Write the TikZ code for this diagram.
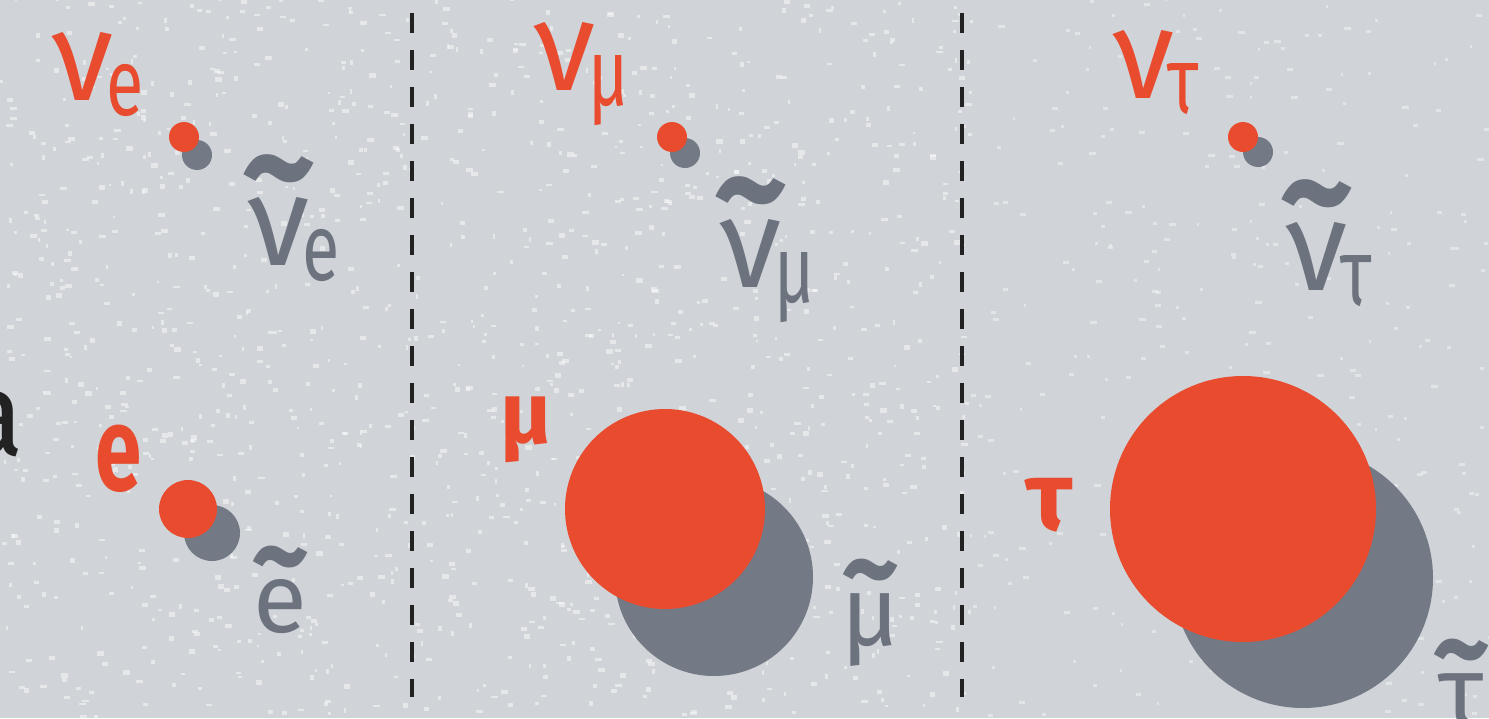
\documentclass[tikz,border=0pt]{standalone}
\usepackage{fontspec}
\setmainfont{Fira Sans}
\usepackage{graphicx}
\definecolor{ptred}{RGB}{232,75,46}
\definecolor{ptgray}{RGB}{115,121,133}
\definecolor{pttext}{RGB}{108,114,126}
\definecolor{ptbg}{RGB}{208,212,216}
\definecolor{ptdash}{RGB}{34,34,34}
\usetikzlibrary{positioning}
\newcommand\ptsub[1]{\kern-0.06em\raisebox{-4.5pt}{\fontsize{27}{27}\selectfont\scalebox{0.72}[1]{#1}}}
\newcommand\pttilde[1]{\ooalign{#1\cr\hidewidth\raisebox{0.36em}{\scalebox{1.15}[1.25]{\bfseries\textasciitilde}}\hidewidth\cr}}
\tikzset{
  pdot/.style={circle, fill=#1, inner sep=0pt, draw=none},
  plbl/.style={anchor=base west, inner sep=0pt, text=ptred,
               font=\fontsize{36}{40}\selectfont},
  albl/.style={anchor=base west, inner sep=0pt, text=pttext,
               font=\fontsize{36}{40}\selectfont},
  sep/.style={ptdash, line width=1.1pt, dash pattern=on 0.2cm off 0.17cm},
}
\begin{document}
\begin{tikzpicture}
  \useasboundingbox (0,0) rectangle (14.89,7.18);
  \clip (0,0) rectangle (14.89,7.18);
  % Background with speckles
  \fill[ptbg] (0,0) rectangle (14.89,7.18);
  \pgfmathsetseed{42}
  \foreach \k in {1,...,1300}{
    \pgfmathsetmacro\sx{rnd*9.7}
    \pgfmathsetmacro\sy{rnd*7.18}
    \pgfmathsetmacro\sw{0.02+rnd*0.05}
    \pgfmathsetmacro\sh{0.02+rnd*0.03}
    \fill[white, opacity=0.45] (\sx,\sy) rectangle ++(\sw,\sh);
  }
  \foreach \k in {1,...,300}{
    \pgfmathsetmacro\sx{9.7+rnd*5.19}
    \pgfmathsetmacro\sy{rnd*7.18}
    \pgfmathsetmacro\sw{0.02+rnd*0.05}
    \fill[white, opacity=0.4] (\sx,\sy) rectangle ++(\sw,0.03);
  }

  % Separators
  \coordinate (s1top) at (4.12,7.05);
  \coordinate (s1bot) at (4.12,0.21);
  \coordinate (s2top) at (9.62,7.05);
  \coordinate (s2bot) at (9.62,0.21);
  \draw[sep] (s1top) -- (s1bot);
  \draw[sep] (s2top) -- (s2bot);

  % Clipped word on the left
  \node[anchor=base east, inner sep=0pt, text=ptdash,
        font=\fontsize{34}{40}\selectfont] (word) at (0.25,2.63) {a};

  % Electron column
  \node[plbl] (nuE) at (0.52,6.18) {ν\ptsub{e}};
  \node[pdot=ptgray, minimum size=0.30cm] (nuEb) at (1.97,5.63) {};
  \node[pdot=ptred, minimum size=0.30cm] (nuEr) at (1.84,5.81) {};
  \node[albl] (snuE) at (2.48,4.53) {\pttilde{ν}\ptsub{e}};
  \node[plbl, font=\fontsize{34}{40}\selectfont\bfseries] (eL) at (0.95,2.28) {\scalebox{0.7}[1]{e}};
  \node[pdot=ptgray, minimum size=0.56cm] (eb) at (2.12,1.85) {};
  \node[pdot=ptred, minimum size=0.58cm] (er) at (1.88,2.09) {};
  \node[albl, font=\fontsize{28}{32}\selectfont] (seL) at (2.53,0.86) {\pttilde{e}};

  % Muon column
  \node[plbl] (nuM) at (5.34,6.28) {ν\ptsub{μ}};
  \node[pdot=ptgray, minimum size=0.30cm] (nuMb) at (6.85,5.65) {};
  \node[pdot=ptred, minimum size=0.30cm] (nuMr) at (6.72,5.81) {};
  \node[albl] (snuM) at (7.20,4.31) {\pttilde{ν}\ptsub{μ}};
  \node[plbl, font=\fontsize{25}{30}\selectfont\bfseries] (muL) at (5.0,2.75) {μ};
  \node[pdot=ptgray, minimum size=1.98cm] (mub) at (7.14,1.41) {};
  \node[pdot=ptred, minimum size=2.0cm] (mur) at (6.65,2.09) {};
  \node[albl, font=\fontsize{28}{32}\selectfont] (smuL) at (8.41,0.73) {\pttilde{μ}};

  % Tau column
  \node[plbl] (nuT) at (11.13,6.20) {ν\ptsub{τ}};
  \node[pdot=ptgray, minimum size=0.30cm] (nuTb) at (12.58,5.66) {};
  \node[pdot=ptred, minimum size=0.30cm] (nuTr) at (12.43,5.81) {};
  \node[albl] (snuT) at (12.86,4.28) {\pttilde{ν}\ptsub{τ}};
  \node[plbl, font=\fontsize{28}{32}\selectfont\bfseries] (tauL) at (10.25,1.88) {τ};
  \node[pdot=ptgray, minimum size=2.60cm] (taub) at (13.03,1.40) {};
  \node[pdot=ptred, minimum size=2.66cm] (taur) at (12.43,2.09) {};
  \node[albl, font=\fontsize{28}{32}\selectfont] (stauL) at (14.38,-0.07) {\pttilde{τ}};
\end{tikzpicture}
\end{document}
